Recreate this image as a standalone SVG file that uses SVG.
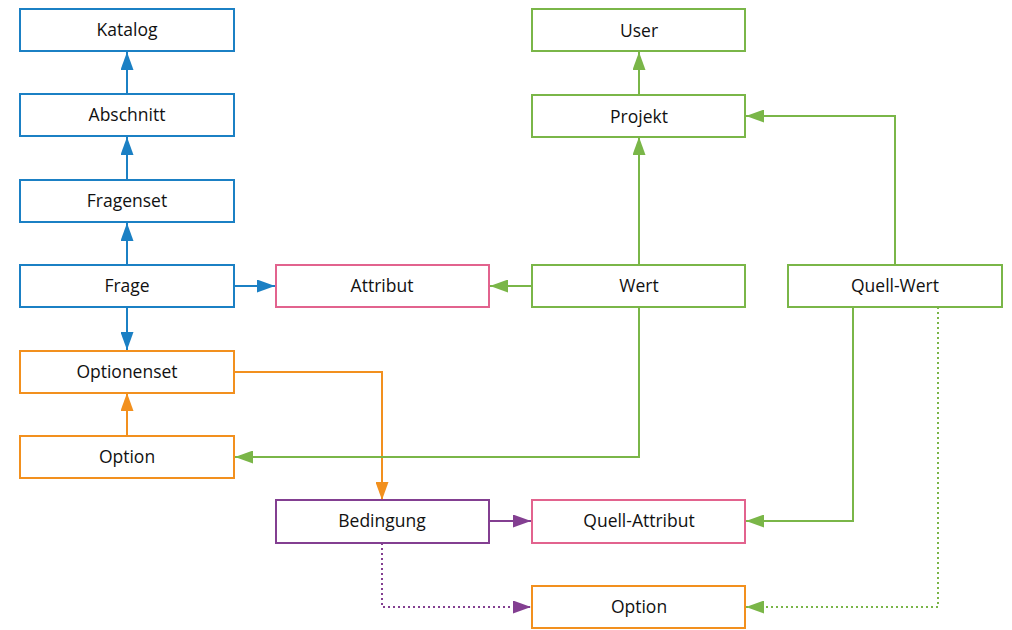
<svg xmlns="http://www.w3.org/2000/svg" width="1012" height="630" viewBox="0 0 1012 630">
<style>
rect{fill:#fff;stroke-width:2}
text{font-family:"Open Sans","Noto Sans",sans-serif;font-size:17.5px;fill:#111;text-anchor:middle;dominant-baseline:central}
.b{stroke:#1b80c4}.g{stroke:#7ab648}.p{stroke:#e2638e}.o{stroke:#f2901e}.v{stroke:#833f91}
path{fill:none;stroke-width:2}
.d{stroke-dasharray:2 3}
</style>
<defs>
<marker id="mb" viewBox="0 0 18 13" refX="18" refY="6.5" markerWidth="18" markerHeight="13" markerUnits="userSpaceOnUse" orient="auto"><path d="M0,0L18,6.5L0,13Z" style="fill:#1b80c4;stroke:none"/></marker>
<marker id="mg" viewBox="0 0 18 13" refX="18" refY="6.5" markerWidth="18" markerHeight="13" markerUnits="userSpaceOnUse" orient="auto"><path d="M0,0L18,6.5L0,13Z" style="fill:#7ab648;stroke:none"/></marker>
<marker id="mo" viewBox="0 0 18 13" refX="18" refY="6.5" markerWidth="18" markerHeight="13" markerUnits="userSpaceOnUse" orient="auto"><path d="M0,0L18,6.5L0,13Z" style="fill:#f2901e;stroke:none"/></marker>
<marker id="mv" viewBox="0 0 18 13" refX="18" refY="6.5" markerWidth="18" markerHeight="13" markerUnits="userSpaceOnUse" orient="auto"><path d="M0,0L18,6.5L0,13Z" style="fill:#833f91;stroke:none"/></marker>
</defs>
<g id="connectors">
<path class="b" d="M127,94V52" marker-end="url(#mb)"/>
<path class="b" d="M127,180V137" marker-end="url(#mb)"/>
<path class="b" d="M127,265V223" marker-end="url(#mb)"/>
<path class="b" d="M127,307V350" marker-end="url(#mb)"/>
<path class="b" d="M234,286H275" marker-end="url(#mb)"/>
<path class="o" d="M127,436V393" marker-end="url(#mo)"/>
<path class="o" d="M234,372H382V500" marker-end="url(#mo)"/>
<path class="g" d="M532,286H490" marker-end="url(#mg)"/>
<path class="g" d="M639,265V137" marker-end="url(#mg)"/>
<path class="g" d="M639,95V52" marker-end="url(#mg)"/>
<path class="g" d="M895,265V116H746" marker-end="url(#mg)"/>
<path class="g" d="M639,307V457H235" marker-end="url(#mg)"/>
<path class="g" d="M853,307V521H746" marker-end="url(#mg)"/>
<path class="g d" d="M938,307V607H746" marker-end="url(#mg)"/>
<path class="v" d="M489,521H531" marker-end="url(#mv)"/>
<path class="v d" d="M382,543V607H531" marker-end="url(#mv)"/>
</g>
<g id="katalog"><rect class="b" x="20" y="9" width="214" height="42"/><text x="127" y="29">Katalog</text></g>
<g id="abschnitt"><rect class="b" x="20" y="94" width="214" height="42"/><text x="127" y="114">Abschnitt</text></g>
<g id="fragenset"><rect class="b" x="20" y="180" width="214" height="42"/><text x="127" y="200">Fragenset</text></g>
<g id="frage"><rect class="b" x="20" y="265" width="214" height="42"/><text x="127" y="285">Frage</text></g>
<g id="optionenset"><rect class="o" x="20" y="351" width="214" height="42"/><text x="127" y="371">Optionenset</text></g>
<g id="option1"><rect class="o" x="20" y="436" width="214" height="42"/><text x="127" y="456">Option</text></g>
<g id="attribut"><rect class="p" x="276" y="265" width="213" height="42"/><text x="382" y="285">Attribut</text></g>
<g id="user"><rect class="g" x="532" y="9" width="213" height="42"/><text x="639" y="30">User</text></g>
<g id="projekt"><rect class="g" x="532" y="95" width="213" height="42"/><text x="639" y="116">Projekt</text></g>
<g id="wert"><rect class="g" x="532" y="265" width="213" height="42"/><text x="639" y="285">Wert</text></g>
<g id="quellwert"><rect class="g" x="788" y="265" width="214" height="42"/><text x="895" y="285">Quell-Wert</text></g>
<g id="bedingung"><rect class="v" x="276" y="500" width="213" height="43"/><text x="382" y="520">Bedingung</text></g>
<g id="quellattribut"><rect class="p" x="532" y="500" width="213" height="43"/><text x="639" y="520">Quell-Attribut</text></g>
<g id="option2"><rect class="o" x="532" y="586" width="213" height="42"/><text x="639" y="606">Option</text></g>
</svg>
